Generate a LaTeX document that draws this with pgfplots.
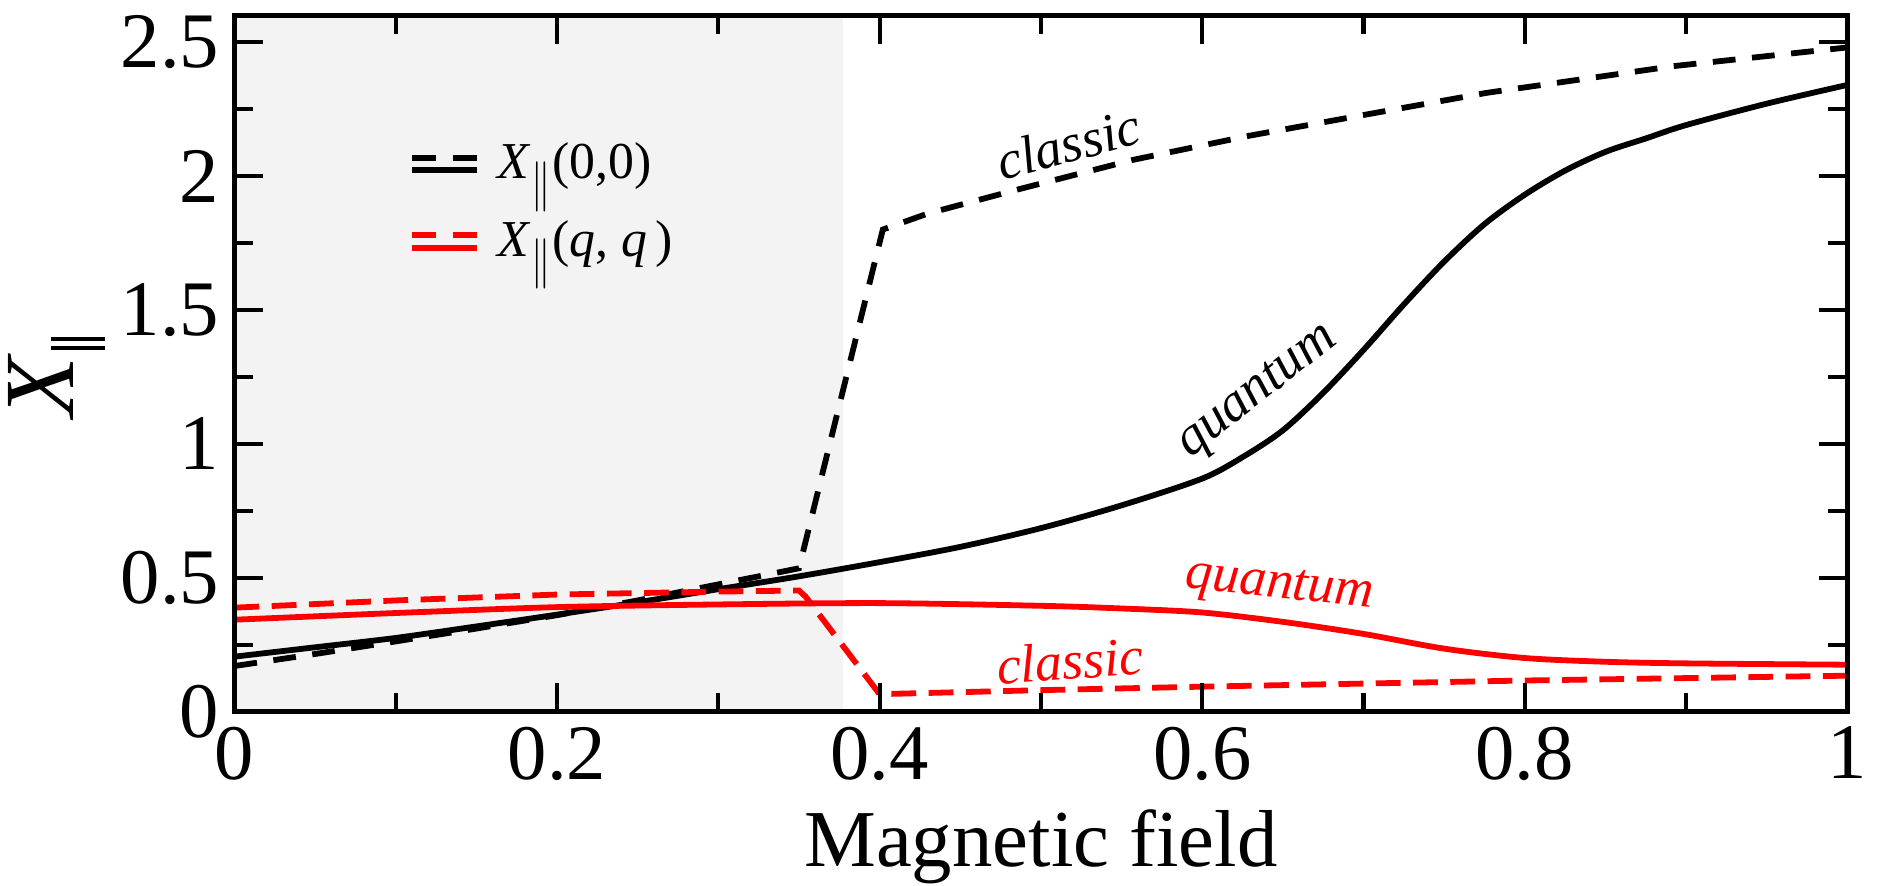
\documentclass[border=0pt]{standalone}
\usepackage{fontspec}
\setmainfont{Liberation Serif}
\usepackage{pgfplots}
\pgfplotsset{compat=1.18}
\definecolor{shade}{HTML}{F3F3F3}
\newcommand\Xpar{\textit{X}$_{\scalebox{1}[1.35]{$\scriptstyle\|$}}$}

\begin{document}
\begin{tikzpicture}
\begin{axis}[
    scale only axis,
    width=13.69cm, height=5.91cm,
    xmin=0, xmax=1, ymin=0, ymax=2.6,
    xtick={0,0.2,0.4,0.6,0.8,1}, minor x tick num=1,
    ytick={0,0.5,1,1.5,2,2.5}, minor y tick num=1,
    tick align=inside, tick pos=both,
    major tick length=0.24cm, minor tick length=0.16cm,
    every tick/.style={black, line width=1pt},
    axis line style={line width=1.2pt},
    axis on top,
    /pgf/number format/assume math mode=true,
    ticklabel style={font=\fontsize{19}{22}\selectfont, inner sep=3.5pt},
    xlabel={Magnetic field},
    xlabel style={font=\fontsize{19.5}{23}\selectfont},
    ylabel={\textit{X}\kern1pt\rule[-7.7pt]{1pt}{13pt}\kern1pt\rule[-7.7pt]{1pt}{13pt}},
    ylabel style={font=\fontsize{24}{28}\selectfont, xshift=-0.12cm},
    ylabel shift=-3.3pt,
    legend style={draw=none, fill=none, inner sep=0pt,
        at={(axis cs:0.108,1.90)}, anchor=west,
        font=\fontsize{12.5}{15}\selectfont, row sep=4.5pt,
        /tikz/every odd column/.append style={column sep=0.08cm}},
    legend cell align=left,
    legend image code/.code={
        \draw[#1, dash pattern=on 5.8pt off 3.9pt] (0cm,1.5pt) -- (0.55cm,1.5pt);
        \draw[#1, solid] (0cm,-1.5pt) -- (0.55cm,-1.5pt);
    },
]
% shaded region
\addplot[fill=shade, draw=none, forget plot] coordinates {
    (0,0) (0.3775,0) (0.3775,2.6) (0,2.6)
};

% X(0,0) classic
\addplot[black, line width=1.4pt, dash pattern=on 5.5pt off 4pt, forget plot] table {
0     0.17
0.05  0.215
0.1   0.262
0.15  0.31
0.2   0.36
0.25  0.415
0.3   0.475
0.35  0.535
0.402 1.80
0.43  1.86
0.486 1.95
0.557 2.06
0.629 2.15
0.693 2.22
0.776 2.31
0.892 2.41
1.0   2.48
};
% X(0,0) quantum
\addplot[black, line width=1.4pt, solid, smooth] table {
0     0.205
0.05  0.24
0.1   0.275
0.15  0.318
0.2   0.362
0.25  0.408
0.3   0.457
0.35  0.505
0.4   0.558
0.45  0.615
0.5   0.685
0.55  0.77
0.6   0.87
0.625 0.95
0.65  1.05
0.675 1.19
0.7   1.35
0.725 1.52
0.75  1.68
0.775 1.82
0.8   1.93
0.825 2.02
0.85  2.09
0.875 2.14
0.9   2.19
0.95  2.27
1.0   2.34
};
\addlegendentry{\Xpar(0,0)}

% X(q,q) classic
\addplot[red, line width=1.4pt, dash pattern=on 6pt off 3pt, forget plot] table {
0     0.388
0.1   0.415
0.2   0.437
0.3   0.448
0.35  0.452
0.354 0.43
0.40  0.065
0.5   0.08
0.6   0.093
0.8   0.116
1.0   0.134
};
% X(q,q) quantum
\addplot[red, line width=1.4pt, solid, smooth] table {
0     0.343
0.1   0.368
0.2   0.39
0.3   0.40
0.4   0.405
0.5   0.395
0.55  0.385
0.6   0.37
0.65  0.335
0.7   0.29
0.75  0.235
0.8   0.20
0.85  0.186
0.9   0.18
1.0   0.175
};
\addlegendentry{\Xpar(\textit{q}, \textit{q}\,)}

\node[rotate=15, font=\fontsize{13}{15}\selectfont\itshape] at (axis cs:0.517,2.12) {classic};
\node[rotate=38, font=\fontsize{13}{15}\selectfont\itshape] at (axis cs:0.635,1.19) {quantum};
\node[rotate=-6, text=red, font=\fontsize{13}{15}\selectfont\itshape] at (axis cs:0.648,0.46) {quantum};
\node[rotate=4, text=red, font=\fontsize{13}{15}\selectfont\itshape] at (axis cs:0.518,0.19) {classic};
\end{axis}
\pgfresetboundingbox
\path ([shift={(-1.99cm,-1.48cm)}]current axis.south west) rectangle ([shift={(0.32cm,0.13cm)}]current axis.north east);
\end{tikzpicture}
\end{document}
